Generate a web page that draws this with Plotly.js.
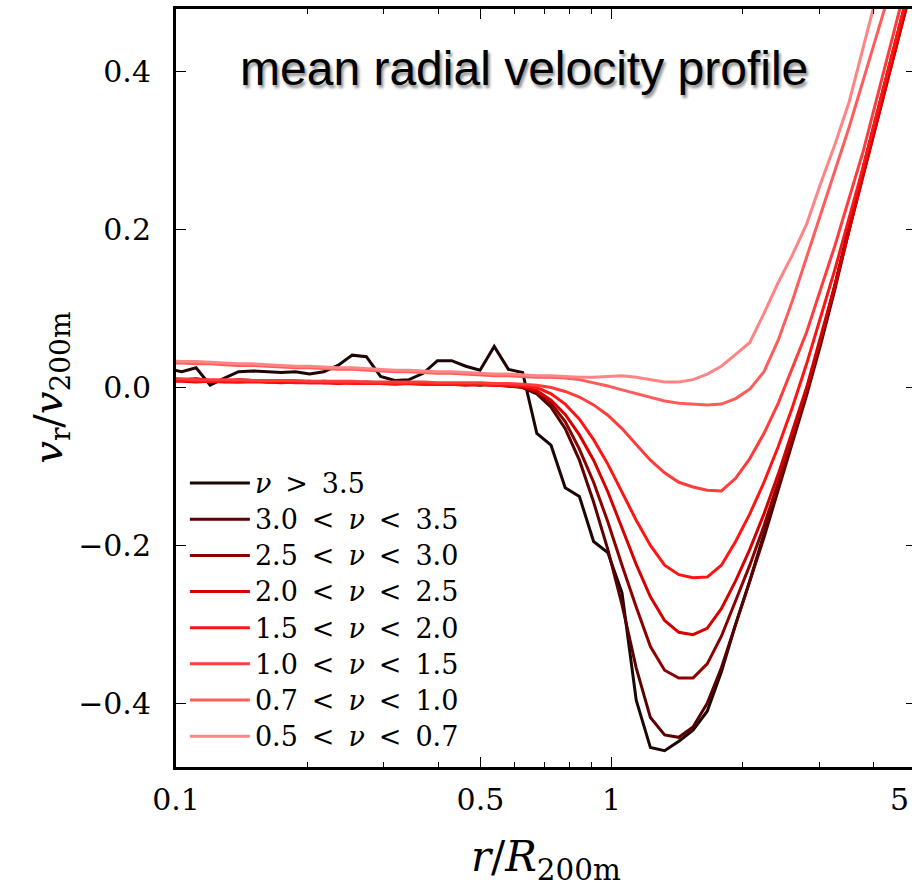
<!DOCTYPE html>
<html>
<head>
<meta charset="utf-8">
<script src="https://cdn.plot.ly/plotly-3.0.1.min.js"></script>
<style>
html,body{margin:0;padding:0;overflow:hidden;background:#fff;}
#chart{width:930px;height:889px;}
</style>
</head>
<body>
<div id="chart"></div>
<script>
// radius grid r / R200m
const R = [0.0957,0.1031,0.1112,0.1198,0.1292,0.1392,0.1501,0.1618,0.1744,0.1880,0.2026,0.2184,0.2355,0.2538,0.2736,0.2949,0.3179,0.3428,0.3695,0.3983,0.4293,0.4628,0.4989,0.5378,0.5797,0.6249,0.6736,0.7261,0.7827,0.8437,0.9095,0.9804,1.0568,1.1392,1.2280,1.3237,1.4269,1.5382,1.6581,1.7873,1.9267,2.0769,2.2387,2.4132,2.6014,2.8042,3.0227,3.2584,3.5124,3.7862,4.0813,4.3995,4.7424,5.1121];

const V_nu35 = [0.024,0.020,0.025,0.003,0.012,0.020,0.021,0.020,0.019,0.020,0.017,0.020,0.028,0.041,0.039,0.014,0.009,0.010,0.018,0.034,0.034,0.027,0.022,0.052,0.023,0.019,-0.058,-0.073,-0.127,-0.138,-0.195,-0.209,-0.260,-0.396,-0.456,-0.460,-0.448,-0.434,-0.410,-0.360,-0.300,-0.245,-0.185,-0.125,-0.065,-0.005,0.060,0.130,0.205,0.280,0.350,0.420,0.490,0.560];
const V_nu30 = [0.012,0.010,0.011,0.009,0.008,0.010,0.009,0.008,0.009,0.008,0.007,0.008,0.007,0.006,0.007,0.006,0.005,0.006,0.005,0.004,0.005,0.004,0.003,0.004,0.002,0.000,-0.008,-0.025,-0.052,-0.092,-0.145,-0.205,-0.275,-0.355,-0.418,-0.440,-0.443,-0.430,-0.400,-0.355,-0.300,-0.245,-0.190,-0.130,-0.070,-0.010,0.055,0.125,0.200,0.275,0.345,0.415,0.485,0.555];
const V_nu25 = [0.010,0.009,0.010,0.008,0.009,0.008,0.009,0.007,0.008,0.007,0.008,0.006,0.007,0.006,0.006,0.005,0.006,0.005,0.005,0.004,0.005,0.004,0.004,0.003,0.002,0.001,-0.006,-0.020,-0.043,-0.078,-0.120,-0.170,-0.225,-0.278,-0.328,-0.358,-0.368,-0.368,-0.350,-0.315,-0.270,-0.225,-0.175,-0.120,-0.065,-0.005,0.060,0.130,0.200,0.270,0.340,0.410,0.480,0.550];
const V_nu20 = [0.008,0.008,0.007,0.008,0.007,0.007,0.008,0.007,0.006,0.007,0.006,0.006,0.005,0.006,0.005,0.005,0.004,0.005,0.004,0.004,0.004,0.003,0.004,0.003,0.002,0.001,-0.004,-0.016,-0.034,-0.060,-0.092,-0.132,-0.178,-0.224,-0.265,-0.295,-0.310,-0.313,-0.305,-0.280,-0.245,-0.205,-0.160,-0.110,-0.055,0.000,0.065,0.130,0.200,0.270,0.340,0.410,0.480,0.550];
const V_nu15 = [0.009,0.009,0.008,0.008,0.008,0.007,0.007,0.007,0.007,0.006,0.006,0.006,0.006,0.005,0.005,0.005,0.005,0.005,0.004,0.004,0.004,0.004,0.004,0.003,0.003,0.002,0.000,-0.008,-0.021,-0.040,-0.066,-0.097,-0.133,-0.168,-0.200,-0.225,-0.237,-0.241,-0.240,-0.225,-0.195,-0.160,-0.120,-0.075,-0.025,0.030,0.090,0.150,0.215,0.280,0.350,0.420,0.490,0.560];
const V_nu10 = [0.011,0.011,0.010,0.010,0.010,0.010,0.009,0.009,0.009,0.009,0.008,0.008,0.008,0.008,0.007,0.007,0.007,0.007,0.007,0.006,0.006,0.006,0.006,0.005,0.005,0.004,0.003,0.000,-0.005,-0.012,-0.022,-0.035,-0.052,-0.072,-0.092,-0.108,-0.120,-0.126,-0.130,-0.131,-0.115,-0.090,-0.058,-0.020,0.025,0.070,0.125,0.180,0.240,0.300,0.370,0.440,0.510,0.580];
const V_nu07 = [0.031,0.031,0.030,0.030,0.029,0.028,0.028,0.027,0.026,0.025,0.025,0.024,0.023,0.023,0.022,0.021,0.020,0.020,0.019,0.018,0.018,0.017,0.016,0.015,0.015,0.014,0.013,0.013,0.012,0.010,0.006,0.002,-0.003,-0.008,-0.013,-0.017,-0.020,-0.021,-0.022,-0.021,-0.014,-0.002,0.020,0.060,0.110,0.165,0.220,0.275,0.330,0.390,0.450,0.510,0.570,0.630];
const V_nu05 = [0.034,0.033,0.033,0.032,0.031,0.030,0.030,0.029,0.028,0.027,0.027,0.026,0.025,0.025,0.024,0.023,0.022,0.022,0.021,0.020,0.020,0.019,0.018,0.017,0.017,0.016,0.015,0.015,0.014,0.013,0.013,0.014,0.015,0.013,0.010,0.007,0.007,0.010,0.017,0.027,0.042,0.057,0.094,0.133,0.168,0.207,0.259,0.308,0.362,0.430,0.500,0.570,0.640,0.710];

const SERIES = [V_nu35, V_nu30, V_nu25, V_nu20, V_nu15, V_nu10, V_nu07, V_nu05];
const S = " \u2009";
const LEG = s => '<span style="font-size:27px">' + s + '</span>';
const NAMES = [
  "<i>ν</i>" + S + "&gt;" + S + "3.5",
  "3.0" + S + "&lt;" + S + "<i>ν</i>" + S + "&lt;" + S + "3.5",
  "2.5" + S + "&lt;" + S + "<i>ν</i>" + S + "&lt;" + S + "3.0",
  "2.0" + S + "&lt;" + S + "<i>ν</i>" + S + "&lt;" + S + "2.5",
  "1.5" + S + "&lt;" + S + "<i>ν</i>" + S + "&lt;" + S + "2.0",
  "1.0" + S + "&lt;" + S + "<i>ν</i>" + S + "&lt;" + S + "1.5",
  "0.7" + S + "&lt;" + S + "<i>ν</i>" + S + "&lt;" + S + "1.0",
  "0.5" + S + "&lt;" + S + "<i>ν</i>" + S + "&lt;" + S + "0.7"
];
const COLORS = ["#1e0505","#5a0000","#8c0000","#d60000","#ff1414","#ff3c3c","#ff5c5c","#ff8585"];

const TITLE = 'mean radial velocity profile';
const X_TITLE = "<i>r</i>/<i>R</i><sub>200m</sub>";
const Y_TITLE = "<i>v</i><sub>r</sub>/<i>v</i><sub>200m</sub>";

// x ticks: the label of the last tick (5) sits at the picture's right edge,
// so it is drawn as an annotation anchored to that tick value
const X_TICKS = [0.1, 0.5, 1, 5];
const X_TICKTEXT = ["0.1", "0.5", "1", ""];
const X_EDGE_TICK = 5, X_EDGE_LABEL = "5";
const X_MINOR = [0.2,0.3,0.4,0.6,0.7,0.8,0.9,2,3,4];
const Y_TICKS = [-0.4, -0.2, 0.0, 0.2, 0.4];

const traces = SERIES.map((v, i) => ({
  type: 'scatter', mode: 'lines', x: R, y: v, name: LEG(NAMES[i]),
  line: {color: COLORS[i], width: 3}
}));

const serif = "DejaVu Serif, serif";
const layout = {
  width: 930, height: 889,
  margin: {l: 175.5, r: 13.5, t: 9, b: 122},
  paper_bgcolor: '#fff', plot_bgcolor: '#fff',
  showlegend: true,
  legend: {
    x: 0.012, y: 0.405, xanchor: 'left', yanchor: 'top',
    bgcolor: 'rgba(0,0,0,0)', borderwidth: 0,
    font: {family: serif, size: 25.5, color: '#000'},
    itemwidth: 60, tracegroupgap: 0
  },
  xaxis: {
    type: 'log', range: [-1, Math.log10(5)], autorange: false,
    tickmode: 'array', tickvals: X_TICKS, ticktext: X_TICKTEXT,
    ticks: 'inside', ticklen: 10, tickwidth: 1.3, tickcolor: '#000',
    minor: {tickmode: 'array', tickvals: X_MINOR, ticks: 'inside', ticklen: 5, tickwidth: 1.1, tickcolor: '#000'},
    showline: true, linewidth: 3, linecolor: '#000', mirror: 'allticks',
    showgrid: false, zeroline: false,
    tickfont: {family: serif, size: 30, color: '#000'},
    ticklabelstandoff: 4
  },
  yaxis: {
    range: [-0.4806, 0.4794], autorange: false,
    tickmode: 'array', tickvals: Y_TICKS, tickformat: '.1f',
    ticks: 'inside', ticklen: 10, tickwidth: 1.3, tickcolor: '#000',
    showline: true, linewidth: 3, linecolor: '#000', mirror: 'allticks',
    showgrid: false, zeroline: false,
    tickfont: {family: serif, size: 30, color: '#000'},
    ticklabelstandoff: 16
  },
  annotations: [{
    xref: 'paper', yref: 'paper', x: 0.470, y: 0.922, xanchor: 'center', yanchor: 'middle',
    text: TITLE, showarrow: false,
    font: {family: 'Liberation Sans, Arial, sans-serif', size: 48, color: '#000', shadow: '2px 3px 3px rgba(0,0,0,0.45)'}
  }, {
    xref: 'x', yref: 'paper', x: Math.log10(X_EDGE_TICK), y: 0, xanchor: 'center', yanchor: 'top',
    xshift: -17, yshift: -13, text: X_EDGE_LABEL, showarrow: false,
    font: {family: serif, size: 30, color: '#000'}
  }, {
    xref: 'paper', yref: 'paper', x: 0.5, y: -0.161, xanchor: 'center', yanchor: 'bottom',
    text: X_TITLE, showarrow: false,
    font: {family: serif, size: 42, color: '#000'}
  }, {
    xref: 'paper', yref: 'paper', x: -0.1694, y: 0.5, xanchor: 'center', yanchor: 'middle',
    text: Y_TITLE, showarrow: false, textangle: -90,
    font: {family: serif, size: 40, color: '#000'}
  }]
};

Plotly.newPlot('chart', traces, layout, {displayModeBar: false, staticPlot: true});
</script>
</body>
</html>
